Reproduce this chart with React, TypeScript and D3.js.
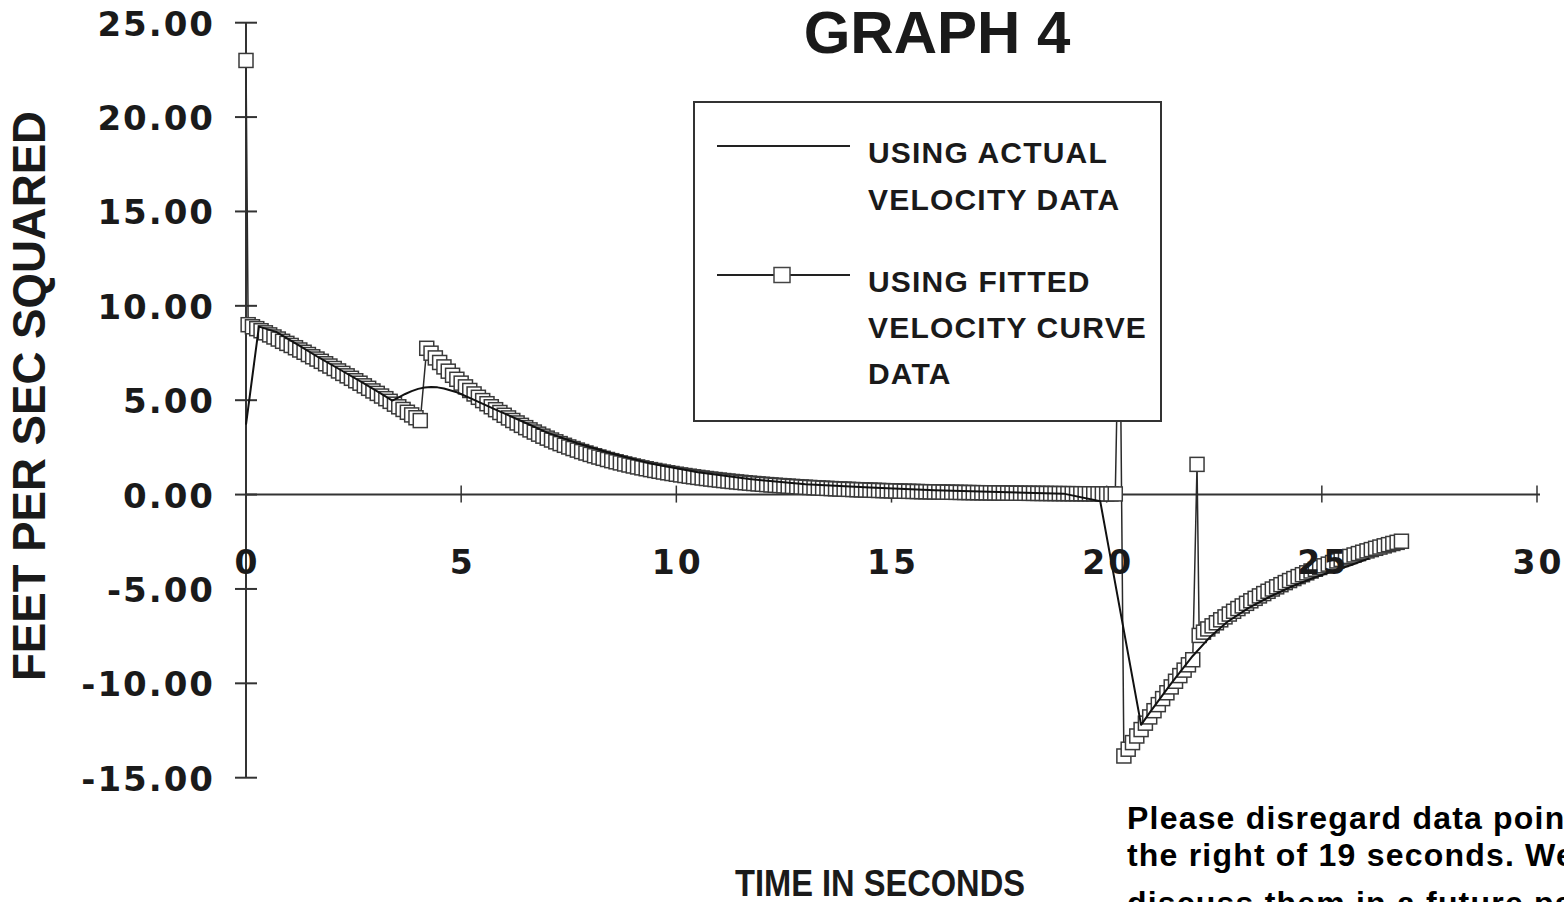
import React from "react";
import * as d3 from "d3";

const W = 1564;
const H = 902;

// Axis ticks
const xTicks = [0, 5, 10, 15, 20, 25, 30];
const yTicks = [25, 20, 15, 10, 5, 0, -5, -10, -15];

// Fitted velocity curve: acceleration sampled every 0.1 s inside each run
const FIT_STEP = 0.1;
const fitStartSpike = [23.0];
const fitRunA = [
  9.0, 8.89, 8.79, 8.68, 8.57, 8.46, 8.35, 8.24, 8.12, 8.01, 7.9, 7.78, 7.66,
  7.54, 7.42, 7.3, 7.18, 7.06, 6.93, 6.81, 6.68, 6.55, 6.42, 6.29, 6.16, 6.03,
  5.9, 5.76, 5.63, 5.49, 5.36, 5.22, 5.08, 4.94, 4.79, 4.65, 4.51, 4.36, 4.22,
  4.07, 3.92,
];
const fitRunB = [
  7.75, 7.491, 7.24, 6.998, 6.764, 6.538, 6.319, 6.108, 5.904, 5.706, 5.515,
  5.331, 5.153, 4.98, 4.814, 4.653, 4.497, 4.347, 4.201, 4.061, 3.925, 3.794,
  3.667, 3.545, 3.426, 3.312, 3.201, 3.094, 2.99, 2.89, 2.794, 2.7, 2.61, 2.523,
  2.439, 2.357, 2.278, 2.202, 2.128, 2.057, 1.989, 1.922, 1.858, 1.796, 1.736,
  1.678, 1.622, 1.567, 1.515, 1.464, 1.415, 1.368, 1.322, 1.278, 1.235, 1.194,
  1.154, 1.116, 1.078, 1.042, 1.008, 0.974, 0.941, 0.91, 0.88, 0.85, 0.822,
  0.794, 0.768, 0.742, 0.717, 0.693, 0.67, 0.648, 0.626, 0.605, 0.585, 0.565,
  0.546, 0.528, 0.51, 0.493, 0.477, 0.461, 0.445, 0.431, 0.416, 0.402, 0.389,
  0.376, 0.363, 0.351, 0.339, 0.328, 0.317, 0.306, 0.296, 0.286, 0.277, 0.267,
  0.258, 0.25, 0.242, 0.234, 0.226, 0.218, 0.211, 0.204, 0.197, 0.19, 0.184,
  0.178, 0.172, 0.166, 0.161, 0.155, 0.15, 0.145, 0.14, 0.136, 0.131, 0.127,
  0.122, 0.118, 0.114, 0.11, 0.107, 0.103, 0.1, 0.097, 0.093, 0.09, 0.087,
  0.084, 0.081, 0.079, 0.076, 0.073, 0.071, 0.069, 0.066, 0.064, 0.062, 0.06,
  0.058, 0.056, 0.054, 0.052, 0.05, 0.049, 0.047, 0.045, 0.044, 0.042, 0.041,
  0.04, 0.038, 0.037, 0.036, 0.035, 0.034,
];
const fitMidSpike = [12.0];
const fitRunC = [
  -13.85, -13.49, -13.14, -12.79, -12.45, -12.11, -11.78, -11.45, -11.13,
  -10.81, -10.5, -10.19, -9.89, -9.59, -9.3, -9.02, -8.75,
];
const fitLateSpike = [1.6];
const fitRunD = [
  -7.462, -7.289, -7.119, -6.954, -6.792, -6.635, -6.48, -6.33, -6.183, -6.039,
  -5.899, -5.762, -5.628, -5.497, -5.369, -5.245, -5.123, -5.004, -4.888,
  -4.774, -4.663, -4.555, -4.449, -4.346, -4.245, -4.146, -4.05, -3.956, -3.864,
  -3.774, -3.686, -3.601, -3.517, -3.435, -3.355, -3.278, -3.201, -3.127,
  -3.054, -2.983, -2.914, -2.846, -2.78, -2.716, -2.653, -2.591, -2.531, -2.472,
];

// Start time (s) of each run, in plotting order
const fittedRuns = [
  { start: 0, values: fitStartSpike },
  { start: 0.05, values: fitRunA },
  { start: 4.2, values: fitRunB },
  { start: 20.3, values: fitMidSpike },
  { start: 20.4, values: fitRunC },
  { start: 22.1, values: fitLateSpike },
  { start: 22.15, values: fitRunD },
];

// Acceleration from the measured velocity data
const actualTime = [
  0, 0.3, 0.7, 1.2, 1.7, 2.2, 2.7, 3.1, 3.4, 3.55, 3.7, 3.85, 4.0, 4.15, 4.3,
  4.45, 4.6, 4.9, 5.3, 5.8, 6.4, 7.0, 7.7, 8.5, 9.4, 10.5, 11.7, 13.0, 14.5,
  16.0, 17.5, 19.0, 19.85, 20.8, 21.0, 21.5, 22.0, 22.4, 22.8, 23.3, 23.8, 24.3,
  24.8, 25.3, 25.7, 26.1,
];
const actualAccel = [
  3.7, 8.9, 8.62, 7.95, 7.25, 6.6, 5.95, 5.4, 4.98, 5.15, 5.33, 5.48, 5.6, 5.67,
  5.7, 5.68, 5.62, 5.42, 5.02, 4.5, 3.9, 3.28, 2.72, 2.18, 1.65, 1.18, 0.82,
  0.55, 0.37, 0.23, 0.13, 0.05, -0.35, -12.2, -11.55, -10.0, -8.55, -7.55,
  -6.75, -6.0, -5.4, -4.87, -4.42, -4.02, -3.72, -3.38,
];

const legendLines = [
  ["USING ACTUAL", "VELOCITY DATA"],
  ["USING FITTED", "VELOCITY CURVE", "DATA"],
];

const noteLines = [
  "Please disregard data points to",
  "the right of 19 seconds. We will",
  "discuss them in a future paper.",
];

type Pt = { t: number; v: number };

const SANS = "'Liberation Sans', Arial, Helvetica, sans-serif";
const NUM = "'DejaVu Sans', 'Liberation Sans', sans-serif";
const INK = "#1a1a1a";

export default function App() {
  const x = d3.scaleLinear().domain([0, 30]).range([246, 1537]);
  const y = d3.scaleLinear().domain([-15, 25]).range([777.7, 22.7]);

  const fitted: Pt[] = fittedRuns.flatMap((run) =>
    run.values.map((v, i) => ({ t: run.start + i * FIT_STEP, v }))
  );
  const actual: Pt[] = actualTime.map((t, i) => ({ t, v: actualAccel[i] }));

  const line = d3
    .line<Pt>()
    .x((d) => x(d.t))
    .y((d) => y(d.v));

  const MS = 14; // marker size
  const y0 = y(0);
  const xAxisEnd = x(30) + 3;

  const legend = { x: 694, y: 102, w: 467, h: 319 };

  return (
    <svg
      width={W}
      height={H}
      viewBox={`0 0 ${W} ${H}`}
      style={{ position: "absolute", left: 0, top: 0, background: "#fff" }}
    >
      <rect x={0} y={0} width={W} height={H} fill="#fff" />

      {/* Title */}
      <text
        x={937}
        y={53}
        textAnchor="middle"
        fontFamily={SANS}
        fontWeight="bold"
        fontSize={60}
        fill={INK}
      >
        GRAPH 4
      </text>

      {/* Y axis */}
      <line x1={x(0)} x2={x(0)} y1={y(25)} y2={y(-15)} stroke="#333" strokeWidth={2} />
      {yTicks.map((v) => (
        <g key={`yt${v}`}>
          <line x1={x(0) - 11} x2={x(0) + 11} y1={y(v)} y2={y(v)} stroke="#333" strokeWidth={2} />
          <text
            x={213}
            y={y(v) + 1}
            dx={2}
            textAnchor="end"
            dominantBaseline="central"
            fontFamily={NUM}
            fontWeight="bold"
            fontSize={34}
            fill={INK}
            style={{ letterSpacing: "2px" }}
          >
            {v.toFixed(2)}
          </text>
        </g>
      ))}

      {/* X axis */}
      <line x1={x(0)} x2={xAxisEnd} y1={y0} y2={y0} stroke="#333" strokeWidth={2} />
      {xTicks
        .filter((t) => t > 0)
        .map((t) => (
          <line key={`xt${t}`} x1={x(t)} x2={x(t)} y1={y0 - 9} y2={y0 + 8} stroke="#333" strokeWidth={1.5} />
        ))}

      {/* Fitted velocity curve series */}
      <path d={line(fitted) ?? ""} fill="none" stroke="#2a2a2a" strokeWidth={1.5} />
      {fitted.map((d, i) => (
        <rect
          key={`m${i}`}
          x={x(d.t) - MS / 2}
          y={y(d.v) - MS / 2}
          width={MS}
          height={MS}
          fill="#fff"
          stroke="#3a3a3a"
          strokeWidth={1.5}
        />
      ))}

      {/* Actual velocity series */}
      <path d={line(actual) ?? ""} fill="none" stroke="#111" strokeWidth={2} strokeLinejoin="round" />

      {/* X tick labels */}
      {xTicks.map((t) => (
        <text
          key={`xl${t}`}
          x={x(t)}
          y={574}
          dx={1.5}
          textAnchor="middle"
          fontFamily={NUM}
          fontWeight="bold"
          fontSize={33}
          fill={INK}
          style={{ letterSpacing: "3px" }}
        >
          {t}
        </text>
      ))}

      {/* Legend */}
      <rect
        x={legend.x}
        y={legend.y}
        width={legend.w}
        height={legend.h}
        fill="#fff"
        stroke="#333"
        strokeWidth={2}
      />
      <line x1={717} x2={850} y1={146} y2={146} stroke="#222" strokeWidth={2} />
      <line x1={717} x2={850} y1={275} y2={275} stroke="#222" strokeWidth={2} />
      <rect x={782 - 8} y={275 - 7.5} width={16} height={15} fill="#fff" stroke="#444" strokeWidth={1.5} />
      {[
        { lines: legendLines[0], base: [163, 210] },
        { lines: legendLines[1], base: [292, 338, 384] },
      ].map((item, k) =>
        item.lines.map((s, j) => (
          <text
            key={`lg${k}-${j}`}
            x={868}
            y={item.base[j]}
            fontFamily={SANS}
            fontWeight="bold"
            fontSize={30}
            fill={INK}
            style={{ letterSpacing: "1.2px" }}
          >
            {s}
          </text>
        ))
      )}

      {/* Axis titles */}
      <text
        transform="translate(45, 396) rotate(-90)"
        textAnchor="middle"
        fontFamily={SANS}
        fontWeight="bold"
        fontSize={46}
        fill={INK}
        textLength={570}
        lengthAdjust="spacingAndGlyphs"
      >
        FEET PER SEC SQUARED
      </text>
      <text
        x={880}
        y={896}
        textAnchor="middle"
        fontFamily={SANS}
        fontWeight="bold"
        fontSize={36}
        fill={INK}
        textLength={290}
        lengthAdjust="spacingAndGlyphs"
      >
        TIME IN SECONDS
      </text>

      {/* Note (runs past the right and bottom edges) */}
      {noteLines.map((s, i) => (
        <text
          key={`n${i}`}
          x={1127}
          y={[829, 866, 914][i]}
          fontFamily={SANS}
          fontWeight="bold"
          fontSize={32}
          fill="#000"
          style={{ letterSpacing: "1.2px" }}
        >
          {s}
        </text>
      ))}
    </svg>
  );
}
